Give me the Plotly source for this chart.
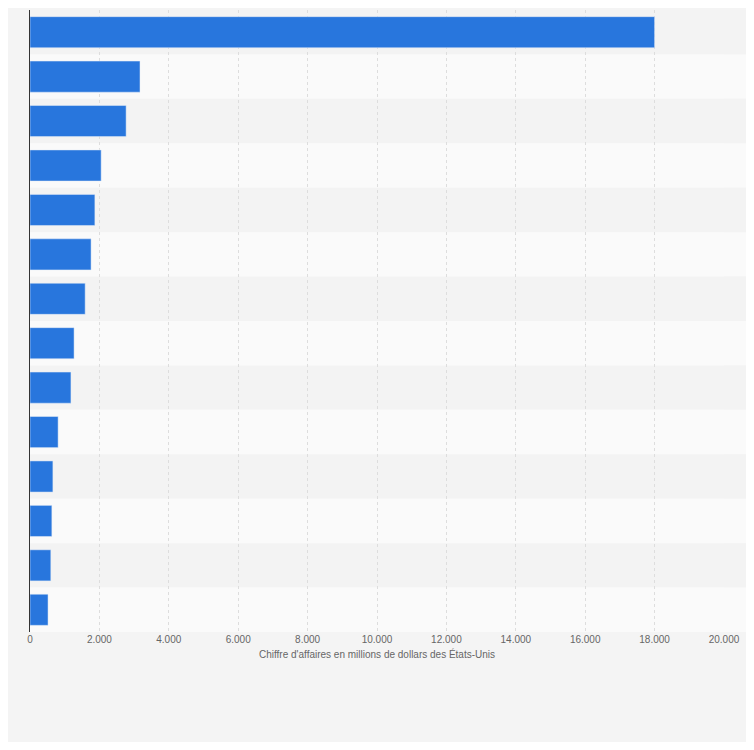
import plotly.graph_objects as go

# categories have no visible labels in the reference
rangs = list(range(1, 15))
chiffre_affaires = [18000, 3170, 2770, 2050, 1870, 1760, 1590, 1270, 1180, 810, 660, 630, 600, 520]
ticks = list(range(0, 20001, 2000))
tick_labels = ["0" if t == 0 else f"{t:,}".replace(",", ".") for t in ticks]

fig = go.Figure(go.Bar(
    x=chiffre_affaires, y=rangs, orientation="h",
    marker=dict(color="#2876dd"), width=0.7,
))

# alternating row bands
shapes = []
for i, r in enumerate(rangs):
    shapes.append(dict(type="rect", xref="paper", yref="y", x0=0, x1=1.05,
                       y0=r - 0.5, y1=r + 0.5, layer="below", line_width=0,
                       fillcolor="#f3f3f3" if i % 2 == 0 else "#fafafa"))

fig.update_layout(
    width=738, height=734,
    margin=dict(l=22, r=22, t=2, b=110),
    paper_bgcolor="#f4f4f4", plot_bgcolor="#fafafa",
    shapes=shapes, showlegend=False,
    font=dict(family="Liberation Sans, Arial, sans-serif", size=10, color="#666666"),
)
fig.update_xaxes(
    range=[0, 20000], tickvals=ticks, ticktext=tick_labels,
    showgrid=True, gridcolor="#dddddd", griddash="dot", gridwidth=1,
    zeroline=False,
    title=dict(text="Chiffre d'affaires en millions de dollars des États-Unis",
               font=dict(size=10, color="#666666"), standoff=6),
)
fig.update_yaxes(
    showticklabels=False, showgrid=False, zeroline=False,
    showline=True, linecolor="#333333", linewidth=1,
    range=[14.5, 0.5],
)
fig.write_html("out.html")
